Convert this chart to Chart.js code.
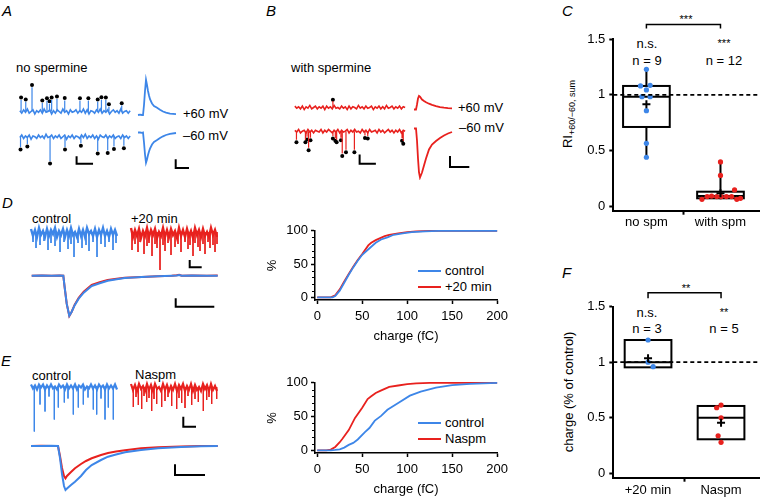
<!DOCTYPE html>
<html>
<head>
<meta charset="utf-8">
<script src="https://cdn.jsdelivr.net/npm/chart.js@4.4.1/dist/chart.umd.min.js"></script>
<style>
  body { margin: 0; width: 763px; height: 498px; overflow: hidden; background: #fff; position: relative;
         font-family: "Liberation Sans", Arial, sans-serif; color: #000; }
  canvas { position: absolute; }
  .t { position: absolute; font-size: 13px; line-height: 1; white-space: nowrap; }
  .c { transform: translateX(-50%); }
  .L { position: absolute; font-size: 15px; font-style: italic; line-height: 1; }
  .s { position: absolute; font-size: 11px; line-height: 1; color: #000; transform: translateX(-50%); }
  .lg { position: absolute; width: 23px; height: 2px; }
  .rot { position: absolute; font-size: 13px; line-height: 1; white-space: nowrap; transform: translate(-50%, -50%) rotate(-90deg); }
  .rot sub { font-size: 9px; vertical-align: -3px; line-height: 0; }
</style>
</head>
<body>

<div class="L" style="left:2px;top:3px">A</div>
<div class="L" style="left:266px;top:3px">B</div>
<div class="L" style="left:562px;top:3px">C</div>
<div class="L" style="left:2px;top:195px">D</div>
<div class="L" style="left:1px;top:353px">E</div>
<div class="L" style="left:562px;top:265px">F</div>

<div class="t" style="left:16px;top:61px">no spermine</div>
<div class="t" style="left:183px;top:107px">+60 mV</div>
<div class="t" style="left:183px;top:129px">–60 mV</div>
<div class="t" style="left:291px;top:61px">with spermine</div>
<div class="t" style="left:458px;top:101px">+60 mV</div>
<div class="t" style="left:459px;top:121px">–60 mV</div>

<div class="t" style="left:32px;top:212px">control</div>
<div class="t" style="left:131px;top:212px">+20 min</div>
<div class="t" style="left:32px;top:369px">control</div>
<div class="t" style="left:135px;top:368px">Naspm</div>

<div class="lg" style="left:418px;top:270px;background:#3d86e8"></div>
<div class="t" style="left:445px;top:264px">control</div>
<div class="lg" style="left:418px;top:286px;background:#e8211e"></div>
<div class="t" style="left:445px;top:280px">+20 min</div>
<div class="lg" style="left:418px;top:422px;background:#3d86e8"></div>
<div class="t" style="left:445px;top:416px">control</div>
<div class="lg" style="left:418px;top:438px;background:#e8211e"></div>
<div class="t" style="left:445px;top:432px">Naspm</div>

<div class="s" style="left:686px;top:14px">***</div>
<div class="t c" style="left:647px;top:37px">n.s.</div>
<div class="t c" style="left:647px;top:54px">n = 9</div>
<div class="s" style="left:724px;top:38px">***</div>
<div class="t c" style="left:724px;top:54px">n = 12</div>
<div class="rot" style="left:567px;top:114px">RI<sub>+60/−60, sum</sub></div>

<div class="s" style="left:686px;top:283px">**</div>
<div class="t c" style="left:647px;top:306px">n.s.</div>
<div class="t c" style="left:647px;top:322px">n = 3</div>
<div class="s" style="left:724px;top:307px">**</div>
<div class="t c" style="left:724px;top:322px">n = 5</div>
<div class="rot" style="left:568px;top:392px">charge (% of control)</div>

<script>
const BLUE = '#3d86e8';
const RED = '#e8211e';

// ---- A: no spermine (raw traces sampled every 2 time units, spikes listed separately) ----
const aPosNoise = [1,-2,2,-1,3,-2,0,2,-3,1,-1,2,-2,3,-1,0,2,-3,1,-2,2,0,-2,3,-1,1,-3,2,-1,0,
                   2,-2,1,-1,3,-2,2,-3,1,0,-2,2,-1,3,-2,1,-1,2,-3,0,2,-1,1,-2,3,-2,0,1,-2,1];
const aPosSpikeT = [1.3, 6.3, 13, 24, 29, 31.7, 34, 39.7, 48, 64.3, 73.3, 83.3, 87.3, 92, 95.3, 109];
const aPosSpikeAmp = [14.2, 11.8, 29.5, 10.5, 13.2, 9.5, 14.2, 15.2, 13.5, 13.2, 13.2, 11.8, 14.5, 14.2, 5.8, 7.2];
const aPosDotY = [17.2, 14.8, 32.5, 13.5, 16.2, 12.5, 17.2, 18.2, 16.5, 16.2, 16.2, 14.8, 17.5, 17.2, 8.8, 10.2];
const aNegNoise = [-1,2,-2,1,-1,2,-3,1,0,-2,2,-1,1,-2,3,-1,0,2,-2,1,-1,2,-2,0,2,-3,1,-1,2,-2,
                   1,0,-2,2,-1,3,-2,1,-1,2,-2,1,-3,2,0,-1,2,-2,1,-1,2,-2,0,1,-2,2,-1,1,-2,1];
const aNegSpikeT = [0.7, 8, 32.3, 48.3, 65.3, 83.3, 94, 100.7, 111.3];
const aNegSpikeAmp = [-12.2, -8.8, -29.2, -12.2, -7.8, -17.2, -16.5, -11.8, -10.8];
const aNegDotY = [-15.2, -11.8, -32.2, -15.2, -10.8, -20.2, -19.5, -14.8, -13.8];
const aRawBar = [60.7, -32.5, 17.6, 9];          // t0, y0, length, height
const aAvgT = [0, 2, 4, 5, 6, 7, 8, 9, 10, 11, 12, 14, 16, 18.7, 22, 25, 28, 32, 38];
const aAvgPos = [0, 0.3, 0, 0, 10, 24, 35.2, 30, 24, 19.5, 15.8, 11.5, 9, 7.5, 5.3, 3.5, 2.3, 1.4, 0.8];
const aAvgNeg = [0, 0, -0.3, 0, -10, -22, -30.2, -27, -22.5, -19, -16.2, -12, -9.5, -7.8, -5.5, -3.8, -2.5, -1.4, -0.5];
const aAvgBar = [37.7, -35.5, 13.3, 8.7];

// ---- B: with spermine ----
const bPosNoise = [2,-1,1,-2,2,-3,1,-1,3,-2,0,2,-2,1,-1,2,-3,2,-1,1,-2,3,-1,0,-2,2,-1,1,-3,2,
                   -2,1,0,-2,3,-1,1,-2,2,-1,0,2,-3,1,-1,2,-2,1,-2,3,-1,0,2,-2,1,-1,2,-2,1,0];
const bPosSpikeT = [40.7];
const bPosSpikeAmp = [9.5];
const bPosDotY = [11.2];
const bNegNoise = [1,-1,2,-2,0,1,-2,2,-1,1,-2,1,0,-1,2,-2,1,-1,2,0,-2,1,-1,2,-2,1,-1,0,2,-2,
                   1,-1,2,-1,0,-2,2,-1,1,-2,2,-1,0,1,-2,2,-1,1,-2,0,2,-1,1,-2,1,-1,2,-2,1,0];
const bNegSpikeT = [1.7, 11.3, 13, 14.7, 16.7, 40.7, 43.3, 44.7, 49.3, 50.7, 54.7, 63.7, 75, 78, 114.7, 116];
const bNegSpikeAmp = [-10, -10, -6.6, -19.3, -7.6, -5.6, -8.3, -10, -7.6, -26, -21.6, -21.6, -5, -5.6, -8.3, -11.6];
const bNegDotY = [-13, -13, -9.6, -22.3, -10.6, -8.6, -11.3, -13, -10.6, -29, -24.6, -24.6, -8, -8.6, -11.3, -14.6];
const bRawBar = [69.3, -38, 17.4, 10.7];
const bAvgT = [0, 2, 3, 4, 5, 6, 8, 10, 12, 15, 18, 22, 26, 30, 34, 38];
const bAvgPos = [0, 0, 5, 11, 13.5, 12.8, 10, 8.5, 7.2, 5.8, 4.6, 3.3, 2.4, 1.8, 1.4, 1.2];
const bAvgNeg = [0, 0, -12, -30, -44, -49, -44, -37, -30, -21, -16, -12.5, -9.5, -7, -5, -3.5];
const bAvgBar = [36, -38.5, 19.3, 11];

// ---- D: control vs +20 min ----
const dCtrlNoise = [3,-4,2,-5,4,-3,1,-5,3,-4,2,-2,4,-5,1,-3,3,-5,2,-4,4,-3,0,-5,3,-4,2,-5,4,-2,
                    1,-4,3,-5,2,-3,4,-4,1,-5,3,-3,2,-4];
const dCtrlSpikeT = [2, 5, 9, 13, 17, 20, 24, 29, 33, 37, 40, 43, 47, 51, 55, 58, 62, 66, 70, 74, 78, 82, 85];
const dCtrlSpikeAmp = [-10, -16, -13, -9, -18, -11, -14, -20, -10, -17, -12, -25, -11, -16, -13, -19, -10, -25, -12, -15, -10, -18, -11];
const d20Noise = [4,-5,2,-4,3,-6,1,-4,4,-5,2,-3,3,-6,0,-4,4,-5,2,-5,3,-3,1,-6,4,-4,2,-5,3,-4,
                  1,-6,4,-3,2,-5,3,-4,0,-5,4,-3,2,-5];
const d20SpikeT = [1, 4, 7, 9, 13, 16, 18, 21, 24, 26, 29, 32, 34, 37, 40, 44, 47, 50, 54, 57, 59, 62, 64, 67, 69, 72, 74, 77, 79, 82, 84, 86];
const d20SpikeAmp = [-18, -12, -20, -10, -22, -14, -11, -24, -12, -16, -38, -13, -19, -11, -23, -15, -12, -20, -10, -17, -13, -24, -11, -15, -19, -12, -22, -10, -16, -13, -20, -12];
const dRawBar = [58.7, -35.3, 12, 7.3];
const dAvgT = [0, 10, 20, 28, 31.6, 33, 35, 37.6, 40, 43, 47, 52, 60, 68, 76, 85, 93, 110, 126, 140, 145, 147.5, 150, 160, 175, 186];
const dAvgCtrl = [0, 0.2, 0, 0.2, 0, -12, -28, -40, -36, -29.5, -23, -17, -10.3, -7.5, -5, -3.5, -2.3, -1.3, -0.6, 0, 0.2, 0.7, 0, 0.3, 0, 0];
const dAvg20 = [0, 0.3, 0, 0.2, 0, -12, -28, -40.3, -36, -29, -22, -16, -9.3, -6.5, -4.3, -3, -2, -1.2, -0.6, 0, 0.4, 1, 0, 0.2, 0, 0.2];
const dAvgBar = [144, -31, 38.6, 8.4];
const dCumCtrlX = [0, 17, 20, 25, 30, 35, 40, 45, 50, 55, 60, 65, 71, 78, 85, 95, 105, 120, 135, 200];
const dCumCtrlY = [0, 0, 2, 10, 22, 34, 45, 55, 64, 70, 76, 82, 87, 90, 94, 96, 98, 99, 100, 100];
const dCum20X = [0, 15, 20, 25, 30, 35, 40, 45, 50, 56.7, 60, 65, 70, 75, 80, 90, 100, 110, 125, 200];
const dCum20Y = [0, 0, 3, 12, 24, 35, 46, 56, 65, 78, 82, 86, 89, 92, 94, 96, 98, 99, 100, 100];

// ---- E: control vs Naspm ----
const eCtrlNoise = [2,-2,1,-3,2,-1,2,-3,1,-2,2,-2,0,-3,2,-1,1,-3,2,-2,1,-2,2,-3,1,-1,2,-3,0,-2,
                    2,-2,1,-3,2,-1,1,-3,2,-2,1,-2,2,-3];
const eCtrlSpikeT = [3.3, 9, 14, 18, 23.3, 27.3, 33.3, 37, 42.3, 47.3, 52.3, 57, 62.3, 65.7, 70, 74, 77.3, 82.3];
const eCtrlSpikeAmp = [-45, -18, -25, -10, -33, -21, -16, -12, -28, -21, -18, -11, -23, -28, -12, -33, -21, -33];
const eNasNoise = [3,-3,2,-4,3,-2,1,-4,3,-3,2,-4,3,-2,0,-4,3,-3,2,-4,1,-3,3,-4,2,-2,3,-4,1,-3,
                   3,-4,2,-3,0,-4,3,-2,2,-4,3,-3,1,-4];
const eNasSpikeT = [2.3, 5, 7.3, 10.7, 13, 15.7, 18, 20.7, 23, 25.7, 30.7, 34, 37, 40.7, 45.7, 48, 50.7, 54, 57, 60.7, 64, 67.3, 72.3, 75.7, 78, 80.7, 85.7];
const eNasSpikeAmp = [-20, -10, -18, -22, -9, -15, -11, -24, -12, -17, -20, -14, -10, -19, -22, -11, -16, -21, -9, -18, -12, -15, -24, -13, -10, -17, -12];
const eRawBar = [52.3, -39.7, 12.7, 10];
const eAvgT = [0, 10, 20, 27, 29, 31, 33, 34.5, 36, 40, 44, 50, 55, 60.7, 70, 77, 85, 94, 110, 127, 150, 170, 186.7];
const eAvgCtrl = [0, 0, 0.2, 0, -12, -28, -40, -44, -42.5, -39, -35.7, -30, -24, -19, -14, -10.7, -8.5, -6.3, -4, -2.3, -1, -0.3, 0];
const eAvgNas = [0, 0.3, 0, 0, -10, -22, -30, -32.3, -30, -26, -22.3, -18, -15, -12.3, -9, -7, -5.5, -4.2, -2.3, -1.3, -0.4, 0, 0];
const eAvgBar = [144, -29, 30, 10.7];
const eCumCtrlX = [0, 15, 20, 25, 30, 35, 40, 45, 53, 58, 64, 71, 78, 90, 103, 115, 132, 150, 170, 200];
const eCumCtrlY = [0, 0, 0.5, 1.5, 4, 8, 11, 16, 27, 33, 44, 51, 60, 70, 81, 87, 93, 96.5, 98.5, 100];
const eCumNasX = [0, 10, 15, 20, 25, 28, 35, 42, 50, 56, 60, 65, 70, 75, 80, 90, 100, 110, 125, 200];
const eCumNasY = [0, 0, 1, 5, 12, 17, 30, 48, 63, 76, 80, 85, 88, 91, 94, 96, 98, 99, 100, 100];

const cumXTicks = [0, 50, 100, 150, 200];
const cumYTicks = [0, 50, 100];
const cumMinorTicks = [10, 20, 30, 40, 60, 70, 80, 90];

// ---- C: rectification index ----
const cLabels = ['no spm', 'with spm'];
const cNoSpm = [1.229, 1.08, 1.086, 1.044, 0.984, 0.984, 0.859, 0.567, 0.442];
const cNoSpmOffset = [0, -0.08, 0.05, 0, -0.06, 0.05, 0, 0, 0];
const cWithSpm = [0.40, 0.28, 0.15, 0.066, 0.09, 0.095, 0.09, 0.09, 0.09, 0.09, 0.066, 0.075];
const cWithSpmOffset = [0, 0, 0.19, -0.25, -0.18, -0.12, -0.05, 0.01, 0.08, 0.15, 0.22, 0.27];
const cQ1 = [0.713, 0.075], cMed = [0.984, 0.095], cQ3 = [1.08, 0.134];
const cLo = [0.442, 0.066], cHi = [1.229, 0.40], cMean = [0.916, 0.12];

// ---- F: charge ----
const fLabels = ['+20 min', 'Naspm'];
const f20 = [1.20, 1.00, 0.96];
const f20Offset = [0, 0, 0.07];
const fNas = [0.614, 0.59, 0.50, 0.338, 0.279];
const fNasOffset = [0, -0.06, 0, -0.04, 0];
const fQ1 = [0.954, 0.306], fMed = [1.0, 0.5], fQ3 = [1.2, 0.606];
const fLo = [0.954, 0.306], fHi = [1.2, 0.606], fMean = [1.035, 0.455];
const boxYTicks = [0, 0.5, 1, 1.5];

Chart.defaults.font.family = '"Liberation Sans", Arial, sans-serif';
Chart.defaults.font.size = 13;
Chart.defaults.color = '#000';

function makeCanvas(left, top, w, h) {
    const c = document.createElement('canvas');
    c.width = w; c.height = h;
    c.style.left = left + 'px'; c.style.top = top + 'px';
    c.style.width = w + 'px'; c.style.height = h + 'px';
    document.body.appendChild(c);
    return c;
}

function noise(vals, step) { return vals.map((v, i) => ({x: i * step, y: v})); }
function xy(xs, ys) { return xs.map((x, i) => ({x: x, y: ys[i]})); }
function spikes(ts, amps) {
    const out = [];
    ts.forEach((t, i) => { out.push({x: t, y: 0}, {x: t, y: amps[i]}, {x: t, y: null}); });
    return out;
}
function scaleBar(b) { return [{x: b[0], y: b[1] + b[3]}, {x: b[0], y: b[1]}, {x: b[0] + b[2], y: b[1]}]; }

function line(points, color, width) {
    return { data: points, showLine: true, borderColor: color, borderWidth: width,
             pointRadius: 0, pointHoverRadius: 0, clip: false, spanGaps: false, tension: 0 };
}
function dots(xs, ys) {
    return { data: xy(xs, ys), showLine: false, pointRadius: 2, backgroundColor: '#000',
             borderWidth: 0, clip: false };
}

function traceChart(box, xr, yr, datasets) {
    const c = makeCanvas(box[0], box[1], box[2], box[3]);
    return new Chart(c, {
        type: 'scatter',
        data: { datasets: datasets },
        options: {
            responsive: false, devicePixelRatio: 1, animation: false,
            layout: { padding: 0 },
            scales: {
                x: { type: 'linear', display: false, min: xr[0], max: xr[1] },
                y: { type: 'linear', display: false, min: yr[0], max: yr[1] }
            },
            plugins: { legend: { display: false }, tooltip: { enabled: false } }
        }
    });
}

// A
traceChart([14, 76, 122, 44], [-2, 120], [-5.5, 38.5], [
    line(noise(aPosNoise, 2), BLUE, 1.6), line(spikes(aPosSpikeT, aPosSpikeAmp), BLUE, 1.2), dots(aPosSpikeT, aPosDotY)]);
traceChart([14, 124, 122, 48], [-2, 120], [-37.5, 10.5], [
    line(noise(aNegNoise, 2), BLUE, 1.6), line(spikes(aNegSpikeT, aNegSpikeAmp), BLUE, 1.2), dots(aNegSpikeT, aNegDotY),
    line(scaleBar(aRawBar), '#000', 2)]);
traceChart([136, 74, 44, 46], [-2, 42], [-5, 41], [line(xy(aAvgT, aAvgPos), BLUE, 1.8)]);
traceChart([136, 124, 56, 48], [-2, 54], [-39.5, 8.5], [line(xy(aAvgT, aAvgNeg), BLUE, 1.8), line(scaleBar(aAvgBar), '#000', 2)]);

// B
traceChart([289, 90, 122, 26], [-2, 120], [-6.5, 19.5], [
    line(noise(bPosNoise, 2), RED, 1.6), line(spikes(bPosSpikeT, bPosSpikeAmp), RED, 1.2), dots(bPosSpikeT, bPosDotY)]);
traceChart([289, 118, 122, 56], [-2, 120], [-45.3, 10.7], [
    line(noise(bNegNoise, 2), RED, 1.6), line(spikes(bNegSpikeT, bNegSpikeAmp), RED, 1.2), dots(bNegSpikeT, bNegDotY),
    line(scaleBar(bRawBar), '#000', 2)]);
traceChart([412, 90, 44, 26], [-2, 42], [-6.5, 19.5], [line(xy(bAvgT, bAvgPos), RED, 1.8)]);
traceChart([412, 118, 60, 62], [-2, 58], [-51.5, 10.5], [line(xy(bAvgT, bAvgNeg), RED, 1.8), line(scaleBar(bAvgBar), '#000', 2)]);

// D traces
traceChart([29, 222, 90, 40], [-2, 88], [-30, 10], [
    line(noise(dCtrlNoise, 2), BLUE, 2.4), line(spikes(dCtrlSpikeT, dCtrlSpikeAmp), BLUE, 1)]);
traceChart([129, 222, 92, 52], [-2, 90], [-42, 10], [
    line(noise(d20Noise, 2), RED, 2.4), line(spikes(d20SpikeT, d20SpikeAmp), RED, 1),
    line(scaleBar(dRawBar), '#000', 2)]);
traceChart([29, 266, 192, 54], [-2.7, 189.3], [-44.3, 9.7], [
    line(xy(dAvgT, dAvgCtrl), BLUE, 2), line(xy(dAvgT, dAvg20), RED, 2), line(scaleBar(dAvgBar), '#000', 2)]);

// E traces
traceChart([29, 378, 90, 56], [-2, 88], [-47.5, 8.5], [
    line(noise(eCtrlNoise, 2), BLUE, 2.2), line(spikes(eCtrlSpikeT, eCtrlSpikeAmp), BLUE, 1)]);
traceChart([129, 378, 92, 52], [-2, 90], [-43, 9], [
    line(noise(eNasNoise, 2), RED, 2.2), line(spikes(eNasSpikeT, eNasSpikeAmp), RED, 1),
    line(scaleBar(eRawBar), '#000', 2)]);
traceChart([29, 438, 192, 58], [-2, 190], [-50, 8], [
    line(xy(eAvgT, eAvgCtrl), BLUE, 2), line(xy(eAvgT, eAvgNas), RED, 2), line(scaleBar(eAvgBar), '#000', 2)]);

// cumulative distributions
const minorTickPlugin = {
    id: 'minorTicks',
    afterDraw(chart) {
        const {ctx, scales: {y}, chartArea} = chart;
        ctx.save();
        ctx.strokeStyle = '#000'; ctx.lineWidth = 1;
        ctx.beginPath();
        cumMinorTicks.forEach(v => {
            const py = Math.round(y.getPixelForValue(v)) + 0.5;
            ctx.moveTo(chartArea.left - 0.5, py); ctx.lineTo(chartArea.left - 3, py);
        });
        ctx.stroke();
        ctx.restore();
    }
};

function cumChart(box, datasets) {
    const c = makeCanvas(box[0], box[1], box[2], box[3]);
    new Chart(c, {
        type: 'scatter',
        data: { datasets: datasets },
        options: {
            responsive: false, devicePixelRatio: 1, animation: false,
            layout: { padding: { top: 6, right: 10, left: 0, bottom: 0 } },
            scales: {
                x: {
                    type: 'linear', min: -2.5, max: 200,
                    afterBuildTicks: s => { s.ticks = cumXTicks.map(v => ({value: v})); },
                    afterFit: s => { s.height = 45; },
                    ticks: { padding: 5, maxRotation: 0, callback: v => String(v) },
                    grid: { drawOnChartArea: false, tickLength: 4, tickWidth: 1.5, color: '#000' },
                    border: { color: '#000', width: 1.5 },
                    title: { display: true, text: 'charge (fC)', padding: { top: 0, bottom: 1 } }
                },
                y: {
                    type: 'linear', min: -4, max: 100,
                    afterBuildTicks: s => { s.ticks = cumYTicks.map(v => ({value: v})); },
                    afterFit: s => { s.width = 60; },
                    ticks: { padding: 3, callback: v => String(v) },
                    grid: { drawOnChartArea: false, tickLength: 4, tickWidth: 1.5, color: '#000' },
                    border: { color: '#000', width: 1.5 },
                    title: { display: true, text: '%', padding: { top: 10, bottom: 0 } }
                }
            },
            plugins: { legend: { display: false }, tooltip: { enabled: false } }
        },
        plugins: [minorTickPlugin]
    });
}

cumChart([255, 220, 258, 125], [
    line(xy(dCumCtrlX, dCumCtrlY), BLUE, 1.8), line(xy(dCum20X, dCum20Y), RED, 1.8)]);
cumChart([255, 372, 258, 126], [
    line(xy(eCumCtrlX, eCumCtrlY), BLUE, 1.8), line(xy(eCumNasX, eCumNasY), RED, 1.8)]);

// box plots
function boxChart(box, o) {
    const c = makeCanvas(box[0], box[1], box[2], box[3]);
    const boxPlugin = {
        id: 'boxes',
        beforeDatasetsDraw(chart) {
            const {ctx, scales: {x, y}} = chart;
            ctx.save();
            ctx.strokeStyle = '#000'; ctx.lineWidth = 2;
            o.q1.forEach((q, i) => {
                const cx = x.getPixelForValue(i);
                const hw = x.getPixelForValue(i + o.boxWidth / 2) - cx;
                const top = y.getPixelForValue(o.q3[i]), bot = y.getPixelForValue(q);
                ctx.beginPath();
                ctx.moveTo(cx, y.getPixelForValue(o.hi[i])); ctx.lineTo(cx, top);
                ctx.moveTo(cx, bot); ctx.lineTo(cx, y.getPixelForValue(o.lo[i]));
                ctx.stroke();
                ctx.strokeRect(cx - hw, top, 2 * hw, bot - top);
                const m = y.getPixelForValue(o.med[i]);
                ctx.beginPath(); ctx.moveTo(cx - hw, m); ctx.lineTo(cx + hw, m); ctx.stroke();
            });
            ctx.restore();
        },
        afterDatasetsDraw(chart) {
            const {ctx, scales: {x, y}} = chart;
            ctx.save();
            ctx.strokeStyle = '#000'; ctx.lineWidth = 2;
            o.mean.forEach((v, i) => {
                const px = x.getPixelForValue(i), py = y.getPixelForValue(v);
                ctx.beginPath();
                ctx.moveTo(px - 4, py); ctx.lineTo(px + 4, py);
                ctx.moveTo(px, py - 4); ctx.lineTo(px, py + 4);
                ctx.stroke();
            });
            // significance bracket
            const by = y.getPixelForValue(o.bracket[0]), be = y.getPixelForValue(o.bracket[1]);
            const x0 = x.getPixelForValue(0), x1 = x.getPixelForValue(1);
            ctx.lineWidth = 1.5;
            ctx.beginPath();
            ctx.moveTo(x0, be); ctx.lineTo(x0, by); ctx.lineTo(x1, by); ctx.lineTo(x1, be);
            ctx.stroke();
            ctx.restore();
        }
    };
    new Chart(c, {
        type: 'scatter',
        data: {
            datasets: [
                { data: [{x: o.xr[0], y: 1}, {x: o.xr[1], y: 1}], showLine: true, borderColor: '#000',
                  borderWidth: 1.8, borderDash: [4, 3], pointRadius: 0, clip: false },
                { data: o.pts0.map((v, i) => ({x: 0 + o.off0[i], y: v})), pointRadius: 2.6,
                  backgroundColor: BLUE, borderWidth: 0, clip: false },
                { data: o.pts1.map((v, i) => ({x: 1 + o.off1[i], y: v})), pointRadius: 2.6,
                  backgroundColor: RED, borderWidth: 0, clip: false }
            ]
        },
        options: {
            responsive: false, devicePixelRatio: 1, animation: false,
            layout: { padding: { top: o.padTop, left: 0, right: 0, bottom: 0 } },
            scales: {
                x: {
                    type: 'linear', min: o.xr[0], max: o.xr[1],
                    afterBuildTicks: s => { s.ticks = [0, 0.5, 1].map(v => ({value: v})); },
                    afterFit: s => { s.height = o.xHeight; },
                    ticks: { padding: o.xPad, maxRotation: 0, autoSkip: false,
                             callback: v => v === 0 ? o.labels[0] : (v === 1 ? o.labels[1] : '') },
                    grid: { drawOnChartArea: false, tickLength: 4, tickWidth: 2,
                            tickColor: ctx => (ctx.tick && ctx.tick.value === 0.5) ? '#000' : 'rgba(0,0,0,0)' },
                    border: { color: '#000', width: 2 }
                },
                y: {
                    type: 'linear', min: o.yMin, max: 1.5,
                    afterBuildTicks: s => { s.ticks = boxYTicks.map(v => ({value: v})); },
                    afterFit: s => { s.width = 50.3; },
                    ticks: { padding: 4, callback: v => String(v) },
                    grid: { drawOnChartArea: false, tickLength: 4, tickWidth: 2, color: '#000' },
                    border: { color: '#000', width: 2 }
                }
            },
            plugins: { legend: { display: false }, tooltip: { enabled: false } }
        },
        plugins: [boxPlugin]
    });
}

boxChart([563, 10, 200, 231], {
    labels: cLabels, xr: [-0.447, 1.52], yMin: -0.036, padTop: 29, xHeight: 30.3, xPad: 0,
    pts0: cNoSpm, off0: cNoSpmOffset, pts1: cWithSpm, off1: cWithSpmOffset,
    q1: cQ1, med: cMed, q3: cQ3, lo: cLo, hi: cHi, mean: cMean, boxWidth: 0.63,
    bracket: [1.63, 1.595]
});
boxChart([563, 270, 200, 228], {
    labels: fLabels, xr: [-0.476, 1.52], yMin: -0.04, padTop: 36.7, xHeight: 20.3, xPad: 1,
    pts0: f20, off0: f20Offset, pts1: fNas, off1: fNasOffset,
    q1: fQ1, med: fMed, q3: fQ3, lo: fLo, hi: fHi, mean: fMean, boxWidth: 0.64,
    bracket: [1.626, 1.575]
});
</script>
</body>
</html>
